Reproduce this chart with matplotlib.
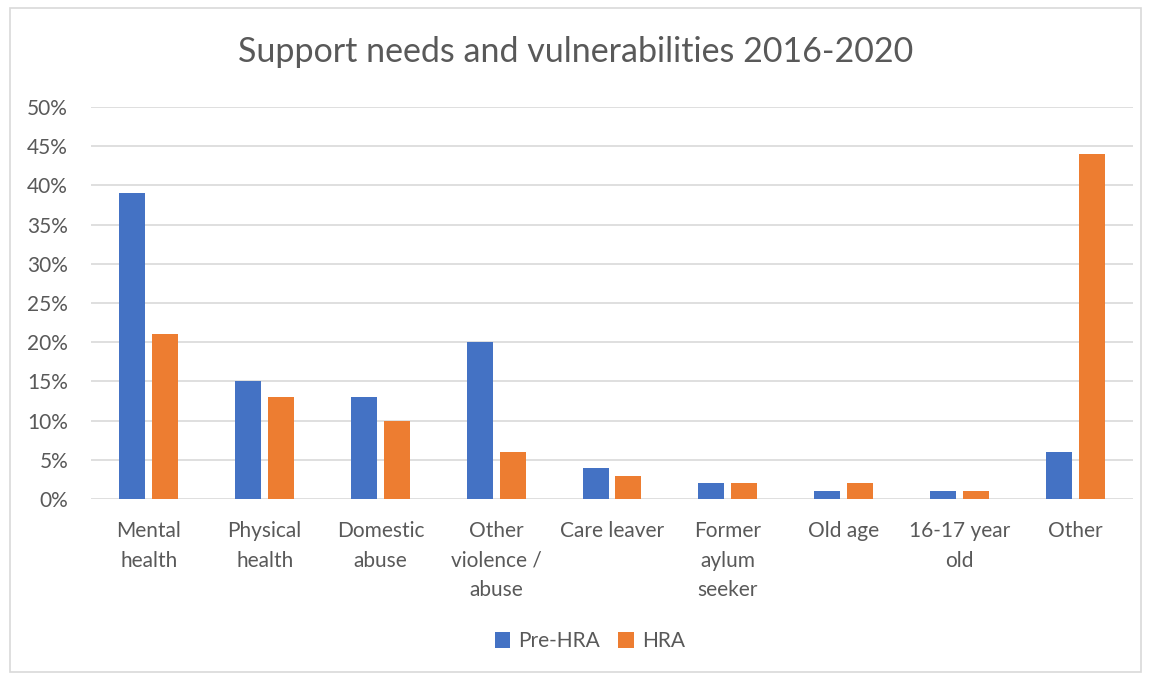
import matplotlib.pyplot as plt
import numpy as np
from matplotlib.patches import Rectangle

categories = ["Mental\nhealth", "Physical\nhealth", "Domestic\nabuse", "Other\nviolence /\nabuse",
              "Care leaver", "Former\naylum\nseeker", "Old age", "16-17 year\nold", "Other"]
pre_hra = [39, 15, 13, 20, 4, 2, 1, 1, 6]
hra = [21, 13, 10, 6, 3, 2, 2, 1, 44]
yticks = [0, 5, 10, 15, 20, 25, 30, 35, 40, 45, 50]

plt.rcParams['font.family'] = ['Lato', 'DejaVu Sans']
text_color = "#595959"

fig = plt.figure(figsize=(11.52, 6.73), dpi=100)
ax = fig.add_axes([0.079, 0.2585, 0.9045, 0.5825])

x = np.arange(len(categories))
width = 0.225
ax.bar(x - 0.142, pre_hra, width, color="#4472c4", label="Pre-HRA", zorder=3)
ax.bar(x + 0.142, hra, width, color="#ed7d31", label="HRA", zorder=3)

ax.set_xlim(-0.5, len(categories) - 0.5)
ax.set_ylim(0, 50)
ax.set_yticks(yticks)
ax.set_yticklabels([f"{t}%" for t in yticks])
ax.set_xticks(x)
ax.set_xticklabels(categories, linespacing=1.58, va="top")
ax.tick_params(axis="both", length=0, colors=text_color, labelsize=15)
ax.tick_params(axis="y", pad=16.5)
ax.tick_params(axis="x", pad=16)
ax.grid(axis="y", color="#d9d9d9", linewidth=1.2, zorder=0)
for s in ax.spines.values():
    s.set_visible(False)

fig.text(0.5, 0.923, "Support needs and vulnerabilities 2016-2020", ha="center", va="center",
         fontsize=24.5, color=text_color)

leg = fig.legend(loc="center", bbox_to_anchor=(0.512, 0.047), ncol=2, frameon=False,
                 fontsize=15, handlelength=0.75, handleheight=0.75, columnspacing=0.85,
                 handletextpad=0.4)
for t in leg.get_texts():
    t.set_color(text_color)

# chart frame
fig.patches.append(Rectangle((10 / 1152, 0.002), 1131 / 1152, 1 - 8 / 673 - 0.002,
                             transform=fig.transFigure, fill=False,
                             edgecolor="#d9d9d9", linewidth=1.2))

fig.savefig("out.png", dpi=100, facecolor="white")
